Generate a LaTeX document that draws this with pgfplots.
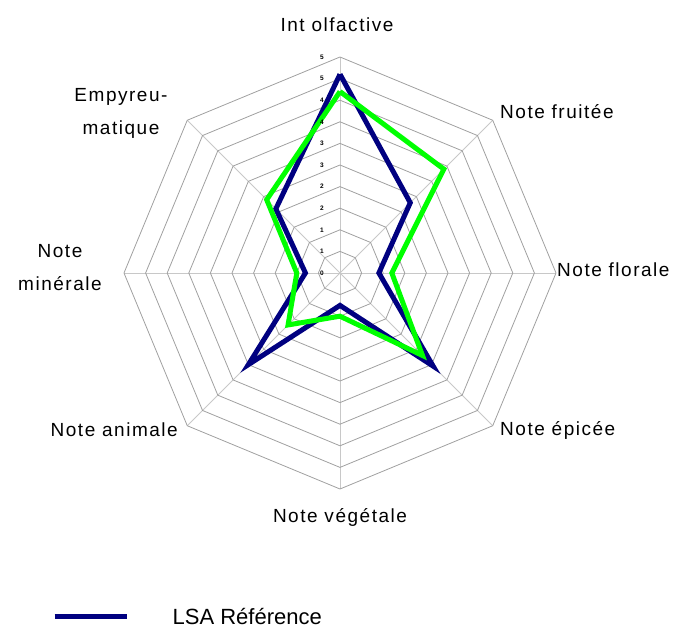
\documentclass[border=0pt]{standalone}
\usepackage{fontspec}
\setmainfont{Liberation Sans}
\newfontfamily\labfont[LetterSpace=8]{Liberation Sans}
\usepackage{pgfplots}
\pgfplotsset{compat=1.18}
\usepgfplotslibrary{polar}
\definecolor{navyline}{RGB}{0,0,128}
\definecolor{greenline}{RGB}{0,255,0}
\definecolor{ringgray}{RGB}{160,160,160}
\definecolor{spokegray}{RGB}{200,200,200}
\tikzset{tlab/.style={font=\bfseries\fontsize{6.5}{7}\selectfont, inner sep=0pt}}
\begin{document}
\begin{tikzpicture}
\path[use as bounding box] (-340pt,-355pt) rectangle (356pt,273pt);
\begin{axis}[
  x=43.2pt, y=43.2pt,
  xmin=-5, xmax=5, ymin=-5, ymax=5,
  at={(0pt,0pt)}, anchor=origin,
  hide axis, clip=false,
  data cs=polar,
  legend style={at={(-0.1667,-0.296)}, anchor=west, draw=none, fill=none, inner sep=0pt,
    font=\fontsize{22}{26}\selectfont},
  legend cell align=left,
  legend image code/.code={\draw[#1, line width=5pt] (0pt,0pt) -- (72pt,0pt); \path[draw=none] (72pt,0pt) -- (116pt,0pt);},
]
% spokes
\addplot[spokegray, line width=0.8pt, forget plot] coordinates {(90,0) (90,5)};
\addplot[spokegray, line width=0.8pt, forget plot] coordinates {(45,0) (45,5)};
\addplot[spokegray, line width=0.8pt, forget plot] coordinates {(0,0) (0,5)};
\addplot[spokegray, line width=0.8pt, forget plot] coordinates {(-45,0) (-45,5)};
\addplot[spokegray, line width=0.8pt, forget plot] coordinates {(-90,0) (-90,5)};
\addplot[spokegray, line width=0.8pt, forget plot] coordinates {(-135,0) (-135,5)};
\addplot[spokegray, line width=0.8pt, forget plot] coordinates {(180,0) (180,5)};
\addplot[spokegray, line width=0.8pt, forget plot] coordinates {(135,0) (135,5)};
% rings
\addplot[ringgray, line width=0.8pt, forget plot] coordinates {(0,0.5) (45,0.5) (90,0.5) (135,0.5) (180,0.5) (225,0.5) (270,0.5) (315,0.5) (360,0.5)};
\addplot[ringgray, line width=0.8pt, forget plot] coordinates {(0,1) (45,1) (90,1) (135,1) (180,1) (225,1) (270,1) (315,1) (360,1)};
\addplot[ringgray, line width=0.8pt, forget plot] coordinates {(0,1.5) (45,1.5) (90,1.5) (135,1.5) (180,1.5) (225,1.5) (270,1.5) (315,1.5) (360,1.5)};
\addplot[ringgray, line width=0.8pt, forget plot] coordinates {(0,2) (45,2) (90,2) (135,2) (180,2) (225,2) (270,2) (315,2) (360,2)};
\addplot[ringgray, line width=0.8pt, forget plot] coordinates {(0,2.5) (45,2.5) (90,2.5) (135,2.5) (180,2.5) (225,2.5) (270,2.5) (315,2.5) (360,2.5)};
\addplot[ringgray, line width=0.8pt, forget plot] coordinates {(0,3) (45,3) (90,3) (135,3) (180,3) (225,3) (270,3) (315,3) (360,3)};
\addplot[ringgray, line width=0.8pt, forget plot] coordinates {(0,3.5) (45,3.5) (90,3.5) (135,3.5) (180,3.5) (225,3.5) (270,3.5) (315,3.5) (360,3.5)};
\addplot[ringgray, line width=0.8pt, forget plot] coordinates {(0,4) (45,4) (90,4) (135,4) (180,4) (225,4) (270,4) (315,4) (360,4)};
\addplot[ringgray, line width=0.8pt, forget plot] coordinates {(0,4.5) (45,4.5) (90,4.5) (135,4.5) (180,4.5) (225,4.5) (270,4.5) (315,4.5) (360,4.5)};
\addplot[ringgray, line width=0.8pt, forget plot] coordinates {(0,5) (45,5) (90,5) (135,5) (180,5) (225,5) (270,5) (315,5) (360,5)};
% data
\addplot[navyline, line width=5pt, line join=miter] coordinates {
  (90,4.6) (45,2.3) (0,0.9) (-45,3.05) (-90,0.75) (-135,3.0) (-180,0.8) (-225,2.1) (-270,4.6)};
\addlegendentry{LSA Référence}
\addplot[greenline, line width=5pt, line join=miter, forget plot] coordinates {
  (90,4.2) (45,3.4) (0,1.2) (-45,2.7) (-90,1.0) (-135,1.7) (-180,1.0) (-225,2.4) (-270,4.2)};
% radial tick labels
\node[tlab] at (axis cs:-0.42,0) {0};
\node[tlab] at (axis cs:-0.42,0.5) {1};
\node[tlab] at (axis cs:-0.42,1) {1};
\node[tlab] at (axis cs:-0.42,1.5) {2};
\node[tlab] at (axis cs:-0.42,2) {2};
\node[tlab] at (axis cs:-0.42,2.5) {3};
\node[tlab] at (axis cs:-0.42,3) {3};
\node[tlab] at (axis cs:-0.42,3.5) {4};
\node[tlab] at (axis cs:-0.42,4) {4};
\node[tlab] at (axis cs:-0.42,4.5) {5};
\node[tlab] at (axis cs:-0.42,5) {5};
\end{axis}
\begin{scope}[every node/.style={font=\labfont\fontsize{19}{33}\selectfont, inner sep=0pt}]
\node[anchor=center] at (-3pt,248pt) {Int olfactive};
\node[anchor=west] at (160pt,161pt) {Note fruitée};
\node[anchor=west] at (217pt,3pt) {Note florale};
\node[anchor=west] at (160pt,-157pt) {Note épicée};
\node[anchor=center] at (0pt,-244pt) {Note végétale};
\node[anchor=east] at (-162pt,-157pt) {Note animale};
\node[anchor=center, align=center] at (-280pt,5pt) {Note\\minérale};
\node[anchor=center, align=center] at (-219pt,160pt) {Empyreu-\\matique};
\end{scope}
\end{tikzpicture}
\end{document}
